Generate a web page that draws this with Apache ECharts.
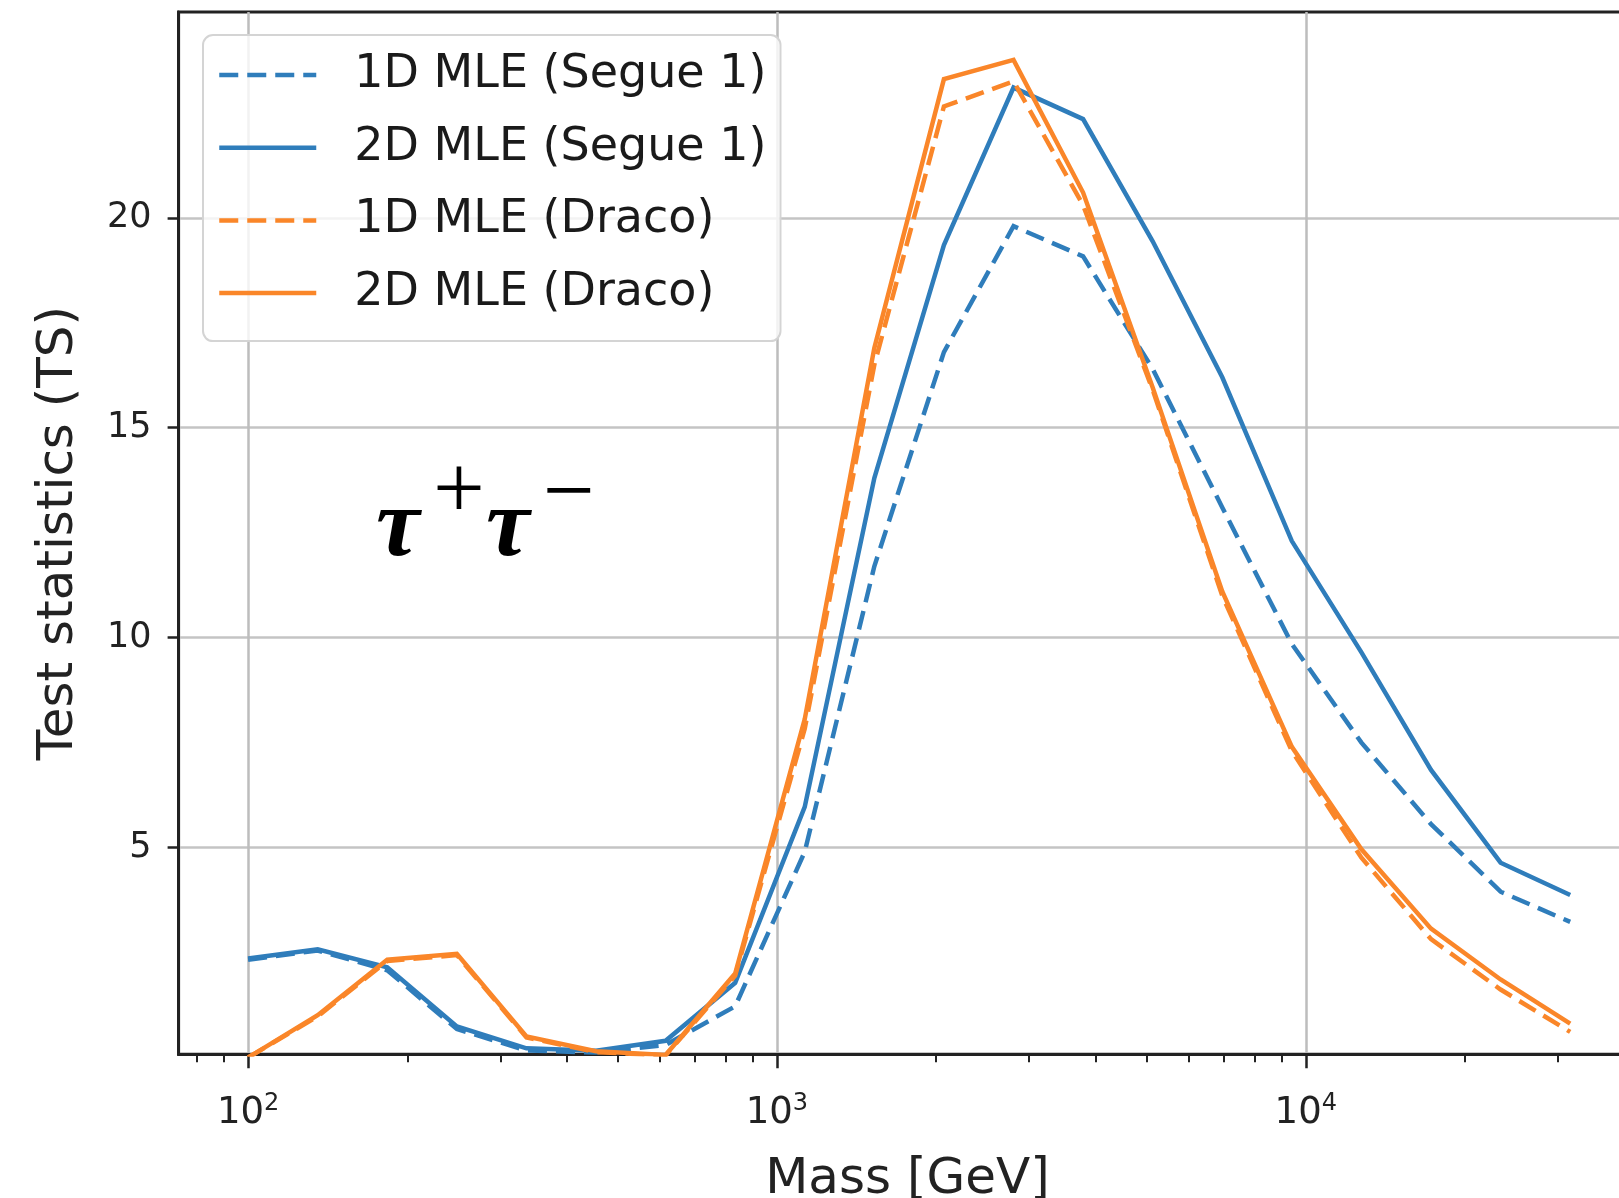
<!DOCTYPE html>
<html><head><meta charset="utf-8">
<script src="https://cdn.jsdelivr.net/npm/echarts@6/dist/echarts.min.js"></script>
<style>html,body{margin:0;padding:0;background:#fff}#c{width:1619px;height:1198px}</style>
</head><body><div id="c"></div>
<script>
// ---- data ----
const massGeV = [100, 135.4, 183.3, 248.2, 336.0, 454.9, 615.8, 833.8, 1128.8, 1528.3, 2069.1, 2801.4, 3792.7, 5134.8, 6951.9, 9412.0, 12742.7, 17252.1, 23357.2, 31622.8];
const ts1DSegue = [2.33, 2.55, 2.08, 0.68, 0.17, 0.12, 0.30, 1.22, 4.9, 11.7, 16.8, 19.8, 19.08, 16.4, 13.1, 9.85, 7.5, 5.56, 3.95, 3.23];
const ts2DSegue = [2.36, 2.58, 2.15, 0.74, 0.22, 0.16, 0.40, 1.78, 5.97, 13.8, 19.35, 23.1, 22.35, 19.44, 16.2, 12.3, 9.65, 6.85, 4.64, 3.87];
const ts1DDraco = [0.0, 0.98, 2.30, 2.44, 0.48, 0.13, 0.05, 1.95, 7.83, 16.5, 22.65, 23.25, 20.3, 15.9, 11.0, 7.3, 4.76, 2.82, 1.62, 0.61];
const ts2DDraco = [0.0, 1.01, 2.33, 2.47, 0.50, 0.15, 0.06, 2.0, 8.06, 16.9, 23.3, 23.76, 20.6, 15.96, 11.1, 7.4, 4.96, 3.07, 1.86, 0.81];
const seriesNames = ['1D MLE (Segue 1)', '2D MLE (Segue 1)', '1D MLE (Draco)', '2D MLE (Draco)'];
const xTickValues = [100, 1000, 10000];
const yTickValues = [5, 10, 15, 20];
const xAxisTitle = 'Mass [GeV]';
const yAxisTitle = 'Test statistics (TS)';

// ---- styling ----
const BLUE = '#2f7dbb', ORANGE = '#fa8629';
const DASH = [19, 9];
const FONT = 'DejaVu Sans';

function pairs(ys) { return massGeV.map((x, i) => [x, ys[i]]); }
function mkSeries(name, ys, color, dashed) {
  return {
    name, type: 'line', data: pairs(ys), symbol: 'none', showSymbol: false,
    lineStyle: { color, width: 4.5, type: dashed ? DASH : 'solid', cap: 'butt', join: 'miter' },
    itemStyle: { color }, emphasis: { disabled: true }, clip: true
  };
}

const chart = echarts.init(document.getElementById('c'), null, { renderer: 'canvas' });
chart.setOption({
  animation: false,
  backgroundColor: '#ffffff',
  grid: { left: 178.6, right: -17.3, top: 12, bottom: 143.8, containLabel: false, outerBoundsMode: 'none',
          show: true, borderColor: '#222', borderWidth: 3, backgroundColor: 'transparent' },
  xAxis: {
    type: 'log', logBase: 10, min: 73.9, max: 42170,
    name: xAxisTitle, nameLocation: 'middle', nameGap: 101,
    nameTextStyle: { fontFamily: FONT, fontSize: 50, color: '#222' },
    axisLine: { show: true, lineStyle: { color: '#222', width: 3 } },
    axisTick: { show: true, inside: false, length: 14, customValues: xTickValues, lineStyle: { color: '#222', width: 2.5 } },
    minorTick: { show: true, splitNumber: 9, length: 8, lineStyle: { color: '#222', width: 2 } },
    axisLabel: {
      show: true, margin: 38, customValues: xTickValues,
      formatter: function (v) { const e = Math.round(Math.log10(v)); return '{b|10}{s|' + e + '}'; },
      rich: {
        b: { fontFamily: FONT, fontSize: 37, color: '#222', lineHeight: 42 },
        s: { fontFamily: FONT, fontSize: 24, color: '#222', lineHeight: 20, verticalAlign: 'top' }
      }
    },
    splitLine: { show: true, lineStyle: { color: '#bdbdbd', width: 2.5 } },
    minorSplitLine: { show: false }
  },
  yAxis: {
    type: 'value', min: 0.08, max: 24.9,
    name: yAxisTitle, nameLocation: 'middle', nameGap: 95, nameRotate: 90,
    nameTextStyle: { fontFamily: FONT, fontSize: 50, color: '#222' },
    axisLine: { show: true, lineStyle: { color: '#222', width: 3 } },
    axisTick: { show: true, inside: false, length: 11, customValues: yTickValues, lineStyle: { color: '#222', width: 2.5 } },
    axisLabel: { show: true, margin: 27, customValues: yTickValues, fontFamily: FONT, fontSize: 35, color: '#222' },
    splitLine: { show: true, lineStyle: { color: '#c4c4c4', width: 2.5 } }
  },
  legend: {
    show: true, orient: 'vertical', left: 203, top: 35,
    data: seriesNames,
    itemWidth: 97, itemHeight: 14, itemGap: 22.7,
    padding: [15, 14, 23, 14],
    backgroundColor: 'rgba(255,255,255,0.8)', borderColor: '#d4d4d4', borderWidth: 2, borderRadius: 10,
    itemStyle: { opacity: 0 },
    lineStyle: { width: 4.5 },
    textStyle: { fontFamily: FONT, fontSize: 46, color: '#1a1a1a', lineHeight: 50, padding: [0, 0, 0, 33] },
    selectedMode: false
  },
  series: [
    mkSeries(seriesNames[0], ts1DSegue, BLUE, true),
    mkSeries(seriesNames[1], ts2DSegue, BLUE, false),
    mkSeries(seriesNames[2], ts1DDraco, ORANGE, true),
    mkSeries(seriesNames[3], ts2DDraco, ORANGE, false)
  ],
  graphic: [
    { type: 'text', x: 376, y: 530, style: { text: 'τ', fontFamily: 'Liberation Serif', fontStyle: 'italic', fontWeight: 'bold', fontSize: 98, fill: '#000', verticalAlign: 'middle', align: 'left' } },
    { type: 'text', x: 433, y: 494, style: { text: '+', fontFamily: 'Liberation Serif', fontSize: 92, fill: '#000', verticalAlign: 'middle', align: 'left' } },
    { type: 'text', x: 486, y: 530, style: { text: 'τ', fontFamily: 'Liberation Serif', fontStyle: 'italic', fontWeight: 'bold', fontSize: 98, fill: '#000', verticalAlign: 'middle', align: 'left' } },
    { type: 'text', x: 543, y: 497, style: { text: '−', fontFamily: 'Liberation Serif', fontSize: 92, fill: '#000', verticalAlign: 'middle', align: 'left' } }
  ]
});
</script></body></html>
